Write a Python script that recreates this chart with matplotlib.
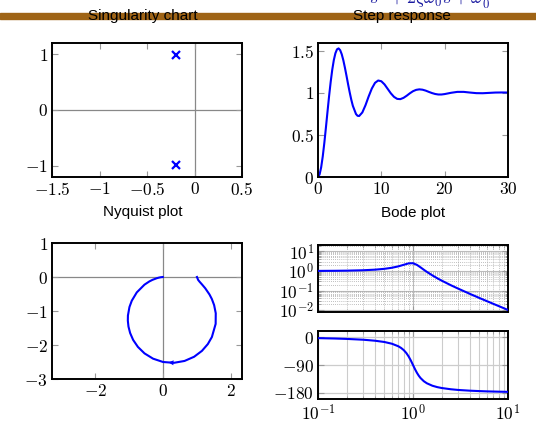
import numpy as np
import matplotlib
matplotlib.use('Agg')
import matplotlib.pyplot as plt
from matplotlib.patches import Rectangle
from matplotlib.ticker import FixedLocator, NullFormatter

plt.rcParams['mathtext.fontset'] = 'cm'
plt.rcParams['font.family'] = ['Liberation Sans', 'DejaVu Sans']

# poles (singularity chart)
pole_re = [-0.2, -0.2]
pole_im = [0.98, -0.98]

# step response
step_t = [0, 0.25, 0.5, 0.75, 1, 1.25, 1.5, 1.75, 2, 2.25, 2.5, 2.75, 3, 3.25,
          3.5, 3.75, 4, 4.25, 4.5, 4.75, 5, 5.25, 5.5, 6, 6.25, 6.5, 7, 7.5,
          8, 8.5, 9, 9.5, 10, 10.5, 11, 11.5, 12, 12.5, 13, 13.5, 14, 14.5,
          15, 15.5, 16, 16.5, 17, 17.5, 18, 18.5, 19, 19.5, 20, 21, 22, 23,
          24, 25, 26, 27, 28, 29, 30]
step_y = [0, 0.030, 0.115, 0.244, 0.405, 0.586, 0.775, 0.959, 1.127, 1.273,
          1.388, 1.469, 1.515, 1.526, 1.505, 1.456, 1.385, 1.297, 1.201, 1.101,
          1.006, 0.919, 0.845, 0.747, 0.726, 0.724, 0.766, 0.852, 0.956, 1.050,
          1.117, 1.145, 1.136, 1.099, 1.046, 0.993, 0.951, 0.927, 0.924, 0.939,
          0.964, 0.993, 1.018, 1.034, 1.040, 1.036, 1.025, 1.010, 0.996, 0.985,
          0.979, 0.979, 0.984, 0.999, 1.010, 1.010, 1.002, 0.995, 0.994, 0.998,
          1.002, 1.003, 1.002]

# Nyquist curve (omega from 0 upward)
nyq_re = [1.0, 1.035, 1.080, 1.149, 1.245, 1.370, 1.440, 1.507, 1.555, 1.552,
          1.441, 1.321, 1.147, 0.916, 0.634, 0.320, 0.0, -0.296, -0.548, -0.744,
          -0.884, -0.973, -1.022, -1.041, -1.038, -0.993, -0.924, -0.777,
          -0.549, -0.405, -0.311, -0.184, -0.122, -0.066, -0.028, -0.010]
nyq_im = [0.0, -0.086, -0.142, -0.219, -0.332, -0.514, -0.648, -0.827, -1.066,
          -1.379, -1.765, -1.973, -2.173, -2.346, -2.469, -2.524, -2.5, -2.402,
          -2.247, -2.056, -1.851, -1.648, -1.458, -1.285, -1.132, -0.883,
          -0.697, -0.453, -0.225, -0.130, -0.083, -0.035, -0.018, -0.007,
          -0.002, -0.0004]

# Bode
mag_w = [0.1, 0.15, 0.2, 0.3, 0.4, 0.5, 0.6, 0.7, 0.8, 0.9, 1.0, 1.1, 1.2,
         1.3, 1.4, 1.6, 1.8, 2, 2.5, 3, 4, 5, 6, 8, 10]
mag = [1.009, 1.021, 1.038, 1.090, 1.170, 1.288, 1.463, 1.719, 2.076, 2.457,
       2.5, 2.051, 1.536, 1.157, 0.900, 0.593, 0.425, 0.322, 0.187, 0.124,
       0.0663, 0.0415, 0.0285, 0.0159, 0.0101]
ph_w = [0.1, 0.15, 0.2, 0.3, 0.4, 0.5, 0.6, 0.7, 0.75, 0.8, 0.85, 0.9, 0.95,
        1.0, 1.05, 1.1, 1.15, 1.2, 1.3, 1.4, 1.6, 1.8, 2, 2.5, 3, 4, 5, 6, 8, 10]
phase = [-2.3, -3.5, -4.8, -7.5, -10.8, -14.9, -20.6, -28.8, -34.4, -41.6,
         -50.8, -62.2, -75.6, -90, -103.7, -115.5, -125.0, -132.5, -143.0,
         -149.7, -157.7, -162.2, -165.1, -169.2, -171.5, -173.9, -175.2,
         -176.1, -177.1, -177.7]

W, H = 536, 424
fig = plt.figure(figsize=(W / 100, H / 100), dpi=100)


def box(x0, y0, x1, y1):
    # pixel box (top-left origin) -> figure axes rect
    return [x0 / W, 1 - y1 / H, (x1 - x0) / W, (y1 - y0) / H]


def style(ax, fs=12.5):
    for s in ax.spines.values():
        s.set_linewidth(1.4)
        s.set_color('black')
    ax.tick_params(direction='in', top=True, right=True, color='#999999',
                   length=4, width=0.8, labelsize=fs, pad=3)
    ax.tick_params(which='minor', direction='in', top=True, right=True,
                   color='#999999', length=2.5, width=0.6)


def mlabels(vals):
    return ['$%g$' % v if v >= 0 else '$-%g$' % -v for v in vals]


def log_minors(lo, hi):
    return [m * 10.0 ** e for e in range(lo, hi) for m in range(2, 10)]


blue = '#0000ff'

# singularity chart
ax1 = fig.add_axes(box(52, 43, 242, 177))
ax1.axhline(0, color='#888888', lw=0.9, zorder=1)
ax1.axvline(0, color='#888888', lw=0.9, zorder=1)
ax1.plot(pole_re, pole_im, 'x', color=blue, ms=6, mew=1.6, zorder=3)
ax1.set_xlim(-1.5, 0.5)
ax1.set_ylim(-1.2, 1.2)
xt = [-1.5, -1, -0.5, 0, 0.5]
yt = [-1, 0, 1]
ax1.set_xticks(xt)
ax1.set_xticklabels(mlabels(xt))
ax1.set_yticks(yt)
ax1.set_yticklabels(mlabels(yt))
style(ax1)

# step response
ax2 = fig.add_axes(box(318, 43, 508, 177))
ax2.plot(step_t, step_y, color=blue, lw=1.5)
ax2.set_xlim(0, 30)
ax2.set_ylim(0, 1.59)
xt = [0, 10, 20, 30]
yt = [0, 0.5, 1, 1.5]
ax2.set_xticks(xt)
ax2.set_xticklabels(mlabels(xt))
ax2.set_yticks(yt)
ax2.set_yticklabels(mlabels(yt))
style(ax2)

# nyquist
ax3 = fig.add_axes(box(52, 243, 242, 379))
ax3.axhline(0, color='#888888', lw=0.9, zorder=1)
ax3.axvline(0, color='#888888', lw=0.9, zorder=1)
ax3.plot(nyq_re, nyq_im, color=blue, lw=1.5, zorder=3)
i = nyq_re.index(0.320)
tip = ((nyq_re[i] + nyq_re[i + 1]) / 2, (nyq_im[i] + nyq_im[i + 1]) / 2)
ax3.annotate('', xy=tip, xytext=(nyq_re[i], nyq_im[i]),
             arrowprops=dict(arrowstyle='-|>', color=blue, lw=0,
                             mutation_scale=9, shrinkA=0, shrinkB=0),
             zorder=4)
ax3.set_xlim(-3.28, 2.33)
ax3.set_ylim(-3, 1)
xt = [-2, 0, 2]
yt = [-3, -2, -1, 0, 1]
ax3.set_xticks(xt)
ax3.set_xticklabels(mlabels(xt))
ax3.set_yticks(yt)
ax3.set_yticklabels(mlabels(yt))
style(ax3)

# bode magnitude
ax4 = fig.add_axes(box(318, 245, 508, 312))
ax4.set_xscale('log')
ax4.set_yscale('log')
ax4.plot(mag_w, mag, color=blue, lw=1.5, zorder=3)
ax4.set_xlim(0.1, 10)
ax4.set_xticks([0.1, 1, 10])
ax4.xaxis.set_major_formatter(NullFormatter())
ax4.xaxis.set_minor_locator(FixedLocator(log_minors(-1, 1)))
ax4.xaxis.set_minor_formatter(NullFormatter())
ax4.set_yticks([1e-2, 1e-1, 1, 10])
ax4.set_yticklabels([r'$10^{-2}$', r'$10^{-1}$', r'$10^{0}$', r'$10^{1}$'])
ax4.yaxis.set_minor_locator(FixedLocator(log_minors(-3, 2)))
ax4.yaxis.set_minor_formatter(NullFormatter())
ax4.grid(which='major', color='#bbbbbb', lw=0.8)
ax4.grid(which='minor', color='#aaaaaa', lw=0.6, ls=(0, (1, 1.5)))
style(ax4)
ax4.set_ylim(10 ** -2.1, 10 ** 1.33)

# bode phase
ax5 = fig.add_axes(box(318, 331, 508, 399))
ax5.set_xscale('log')
ax5.plot(ph_w, phase, color=blue, lw=1.5, zorder=3)
ax5.set_xlim(0.1, 10)
ax5.set_ylim(-201, 21)
ax5.set_xticks([0.1, 1, 10])
ax5.set_xticklabels([r'$10^{-1}$', r'$10^{0}$', r'$10^{1}$'])
ax5.xaxis.set_minor_locator(FixedLocator(log_minors(-1, 1)))
ax5.xaxis.set_minor_formatter(NullFormatter())
yt = [-180, -90, 0]
ax5.set_yticks(yt)
ax5.set_yticklabels(mlabels(yt))
ax5.grid(which='major', color='#cccccc', lw=0.9)
ax5.grid(which='minor', axis='x', color='#cccccc', lw=0.8)
style(ax5)
ax5.tick_params(axis='y', which='minor', left=False, right=False)

# header bar and titles (the formula is cut by the top edge, as in the original)
fig.patches.append(Rectangle((0, 1 - 19 / H), 1, 6 / H, transform=fig.transFigure,
                             color='#9f6416', zorder=0))
fig.text(430 / W, 1 - 4.5 / H, r'$s^2+2\zeta\omega_0 s+\omega_0^2$',
         color='#1a1aa0', fontsize=13, ha='center', va='baseline')
fig.text(143 / W, 1 - 16 / H, 'Singularity chart', fontsize=11,
         ha='center', va='center', zorder=5)
fig.text(402 / W, 1 - 16 / H, 'Step response', fontsize=11,
         ha='center', va='center', zorder=5)
fig.text(143 / W, 1 - 212 / H, 'Nyquist plot', fontsize=11,
         ha='center', va='center')
fig.text(413 / W, 1 - 213 / H, 'Bode plot', fontsize=11,
         ha='center', va='center')

fig.savefig('out.png', dpi=100)
